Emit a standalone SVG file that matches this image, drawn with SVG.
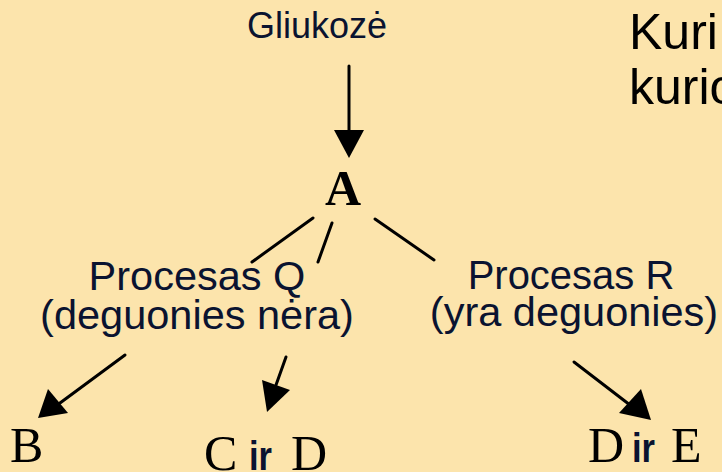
<svg xmlns="http://www.w3.org/2000/svg" width="722" height="472" viewBox="0 0 722 472">
<defs>
<style>
.sans{font-family:"Liberation Sans",Arial,sans-serif;fill:#0a1330}
.serif{font-family:"Liberation Serif","Times New Roman",serif;fill:#000}
.q{font-family:"Liberation Sans",Arial,sans-serif;fill:#000}
.ir{font-family:"Liberation Sans",Arial,sans-serif;fill:#0a1330;font-weight:bold;font-size:40px}
.ln{stroke:#000;stroke-width:3;fill:none;stroke-linecap:round}
</style>
</defs>
<rect width="722" height="472" fill="#FCE4AC"/>
<g id="question"><text class="q" x="629" y="49" font-size="50">Kuri</text><text class="q" x="629" y="104" font-size="50">kurio</text></g>
<g id="gliukoze"><text class="sans" x="247" y="38" font-size="36">Gliukozė</text></g>
<g id="A"><text class="serif" x="343" y="205" font-size="50" font-weight="bold" text-anchor="middle">A</text></g>
<g id="procesasQ"><text class="sans" x="197" y="290" font-size="41.5" text-anchor="middle">Procesas Q</text><text class="sans" x="197" y="329" font-size="41.5" text-anchor="middle">(deguonies nėra)</text></g>
<g id="procesasR"><text class="sans" x="571" y="289" font-size="40" text-anchor="middle">Procesas R</text><text class="sans" x="574" y="326" font-size="41.5" text-anchor="middle">(yra deguonies)</text></g>
<g id="B"><text class="serif" x="10" y="462" font-size="50">B</text></g>
<g id="CirD"><text class="serif" x="204" y="470" font-size="50">C<tspan class="ir" x="249" textLength="23" lengthAdjust="spacingAndGlyphs">ir</tspan><tspan x="291">D</tspan></text></g>
<g id="DirE"><text class="serif" x="588" y="462" font-size="50">D<tspan class="ir" x="632" textLength="23" lengthAdjust="spacingAndGlyphs">ir</tspan><tspan x="671">E</tspan></text></g>
<g id="connectors">
<line x1="349" y1="66" x2="349" y2="130" class="ln"/>
<path d="M334,130 L364,130 L349,158 z" fill="#000"/>
<line x1="313" y1="218" x2="252" y2="262" class="ln"/>
<line x1="332" y1="223" x2="318" y2="262" class="ln"/>
<line x1="375" y1="219" x2="434" y2="260" class="ln"/>
<line x1="125" y1="355" x2="60" y2="403" class="ln"/>
<path d="M38,418 L48,389 L68,413 z" fill="#000"/>
<line x1="286" y1="357" x2="276" y2="385" class="ln"/>
<path d="M267,412 L262,380 L290,390 z" fill="#000"/>
<line x1="574" y1="362" x2="630" y2="405" class="ln"/>
<path d="M651,420 L619,413 L641,389 z" fill="#000"/>
</g>
</svg>
